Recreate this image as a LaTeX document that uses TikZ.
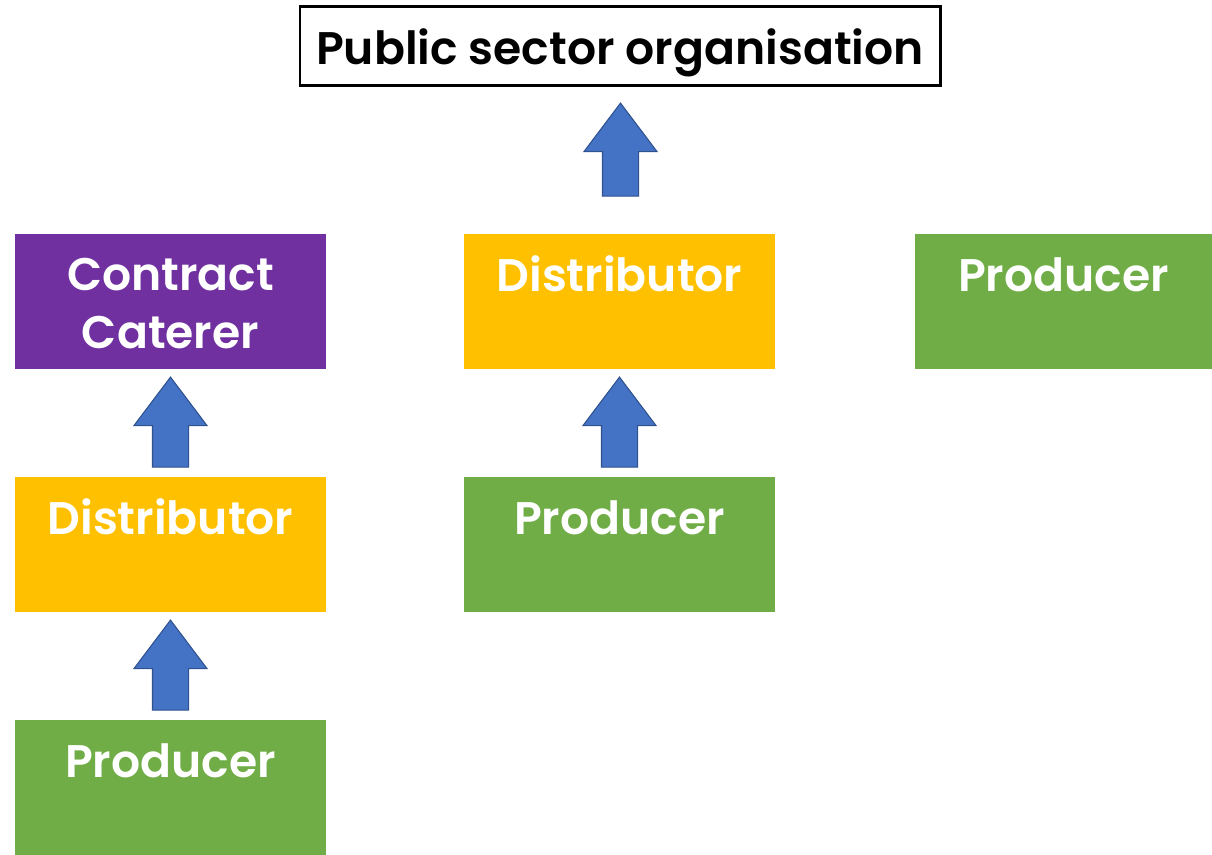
\documentclass[tikz,border=0pt]{standalone}
\usepackage{fontspec}
\setmainfont{Poppins}[BoldFont={Poppins SemiBold}]
\usetikzlibrary{positioning, calc, shapes.arrows}
\definecolor{caterer}{HTML}{7030A0}
\definecolor{distrib}{HTML}{FFC000}
\definecolor{produce}{HTML}{70AD47}
\definecolor{arrowfill}{HTML}{4472C4}
\definecolor{arrowline}{HTML}{2F528F}
\tikzset{
    every node/.style={inner sep=0pt, font=\bfseries\fontsize{26}{33}\selectfont},
    stage/.style={rectangle, minimum width=6.22cm, minimum height=2.7cm,
    	text=white, align=center, text height=1.16cm, text depth=1.54cm},
    uparrow/.style={single arrow, rotate=90, anchor=tail, fill=arrowfill, draw=arrowline,
    	line width=0.6pt, inner sep=0.35cm, minimum height=1.8cm, minimum width=1.44cm,
    	single arrow head extend=0.37cm, single arrow tip angle=74}
}

\begin{document}
\begin{tikzpicture}
  \useasboundingbox (0cm, 0cm) rectangle (24.24cm, 17.1cm);

  \node (pso) [draw, line width=1.7pt, minimum width=12.8cm, minimum height=1.58cm,
    text height=1.16cm, text depth=0.42cm] at (12.4cm, 16.17cm) {Public sector organisation};

  \node (cc) [stage, fill=caterer, text height=2.3cm, text depth=0.4cm] at (3.41cm, 11.07cm) {Contract\\Caterer};
  \node (dm) [stage, fill=distrib] at (12.39cm, 11.07cm) {Distributor};
  \node (pr) [stage, fill=produce, minimum width=5.94cm] at (21.27cm, 11.07cm) {Producer};

  \node (dl) [stage, fill=distrib] at (3.41cm, 6.21cm) {Distributor};
  \node (pm) [stage, fill=produce] at (12.39cm, 6.21cm) {Producer};

  \node (pl) [stage, fill=produce] at (3.41cm, 1.35cm) {Producer};

  \node (a0) [uparrow, minimum height=1.86cm] at ($(dm.north)+(0.02cm, 0.74cm)$) {};
  \node (a1) [uparrow] at ($(dl.north)+(0cm, 0.18cm)$) {};
  \node (a2) [uparrow] at ($(pl.north)+(0cm, 0.18cm)$) {};
  \node (a3) [uparrow] at ($(pm.north)+(0cm, 0.18cm)$) {};
\end{tikzpicture}
\end{document}
